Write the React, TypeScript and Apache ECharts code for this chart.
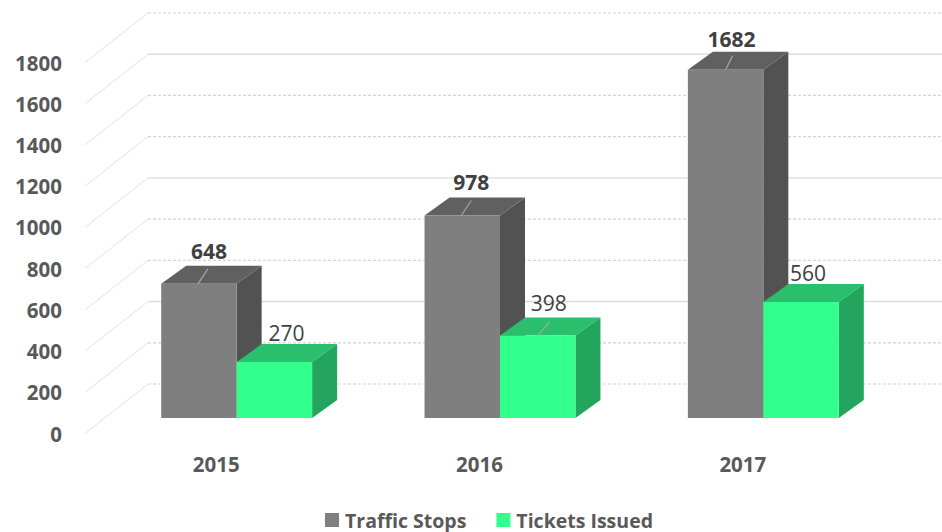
import React, { useEffect, useRef } from "react";
import * as echarts from "echarts";

const categories = ["2015", "2016", "2017"];
const trafficStops = [648, 978, 1682];
const ticketsIssued = [270, 398, 560];
const yTicks = [0, 200, 400, 600, 800, 1000, 1200, 1400, 1600, 1800];
const solidTicks = [400, 1000, 1600];

const FONT = '"Open Sans", sans-serif';
const DEPTH_X = 25;
const DEPTH_Y = 18;
const WALL_X = 63;
const WALL_Y = 49.5;
const BAR_FRACTION = 75.5 / 263.5;

type BarStyle = {
  front: string;
  side: string;
  top: string;
  slot: number;
  bold: boolean;
  labelShift: number[][];
  leader: (number[] | null)[];
};

const grayStyle: BarStyle = {
  front: "#7f7f7f",
  side: "#525252",
  top: "#606060",
  slot: -1,
  bold: true,
  labelShift: [[10, -33], [9, -33], [6, -31]],
  leader: [[-1, 0, 9, -15], [-1, 0, 9, -15], [0, 0, 7, -14]],
};
const greenStyle: BarStyle = {
  front: "#33ff8d",
  side: "#24a55e",
  top: "#29bf6c",
  slot: 0,
  bold: false,
  labelShift: [[12, -29], [11, -33], [7, -29]],
  leader: [null, [0, 0, 12, -14], null],
};

function barRenderer(s: BarStyle) {
  return (params: any, api: any) => {
    const idx = api.value(0);
    const value = api.value(1);
    const w = api.size([1, 0])[0] * BAR_FRACTION;
    const c = api.coord([idx, value]);
    const b = api.coord([idx, 0]);
    const x0 = c[0] + s.slot * w;
    const x1 = x0 + w;
    const yt = c[1];
    const yb = b[1];
    const children: any[] = [
      {
        type: "polygon",
        shape: { points: [[x1, yt], [x1 + DEPTH_X, yt - DEPTH_Y], [x1 + DEPTH_X, yb - DEPTH_Y], [x1, yb]] },
        style: { fill: s.side },
      },
      {
        type: "polygon",
        shape: { points: [[x0, yt], [x0 + DEPTH_X, yt - DEPTH_Y], [x1 + DEPTH_X, yt - DEPTH_Y], [x1, yt]] },
        style: { fill: s.top },
      },
      {
        type: "rect",
        shape: { x: x0, y: yt, width: w, height: yb - yt },
        style: { fill: s.front },
      },
    ];
    const cx = (x0 + x1) / 2;
    const lead = s.leader[idx];
    if (lead) {
      children.push({
        type: "line",
        shape: { x1: cx + lead[0], y1: yt + lead[1], x2: cx + lead[2], y2: yt + lead[3] },
        style: { stroke: "#a6a6a6", lineWidth: 1.2 },
      });
    }
    const shift = s.labelShift[idx];
    children.push({
      type: "text",
      style: {
        text: String(value),
        x: cx + shift[0],
        y: yt + shift[1],
        align: "center",
        verticalAlign: "middle",
        fill: "#404040",
        font: `${s.bold ? "bold " : ""}21px ${FONT}`,
      },
    });
    return { type: "group", children };
  };
}

function wallRenderer(params: any, api: any) {
  const v = api.value(0);
  const a = api.coord([0, v]);
  const e = api.coord([1, v]);
  const solid = solidTicks.includes(v);
  return {
    type: "group",
    children: [
      {
        type: "line",
        shape: { x1: a[0], y1: a[1], x2: a[0] + WALL_X, y2: a[1] - WALL_Y },
        style: { stroke: "#e2e2e2", lineWidth: 1 },
      },
      {
        type: "line",
        shape: { x1: a[0] + WALL_X, y1: a[1] - WALL_Y, x2: e[0], y2: e[1] - WALL_Y },
        style: solid
          ? { stroke: "#dcdcdc", lineWidth: 1.4 }
          : { stroke: "#d4d4d4", lineWidth: 1.2, lineDash: [3, 2] },
      },
    ],
  };
}

export default function App() {
  const ref = useRef<HTMLDivElement>(null);
  useEffect(() => {
    const chart = echarts.init(ref.current!, null, { renderer: "svg" });
    chart.setOption({
      animation: false,
      backgroundColor: "#ffffff",
      grid: [
        { left: 105, right: 47, top: 45.3, height: 372.7 },
        { left: 85, right: 0, top: 62.5, height: 371 },
      ],
      xAxis: [
        {
          type: "category",
          gridIndex: 0,
          data: categories,
          axisLine: { show: false },
          axisTick: { show: false },
          axisLabel: {
            margin: 35,
            color: "#595959",
            fontFamily: FONT,
            fontWeight: "bold",
            fontSize: 20.5,
            padding: [0, 41, 0, 0],
          },
        },
        { type: "value", gridIndex: 1, min: 0, max: 1, show: false },
      ],
      yAxis: [
        { type: "value", gridIndex: 0, min: 0, max: 1800, interval: 200, show: false },
        {
          type: "value",
          gridIndex: 1,
          min: 0,
          max: 1800,
          interval: 200,
          axisLine: { show: false },
          axisTick: { show: false },
          splitLine: { show: false },
          axisLabel: {
            margin: 23,
            color: "#595959",
            fontFamily: FONT,
            fontWeight: "bold",
            fontSize: 20.5,
            formatter: (v: number) => String(v),
          },
        },
      ],
      legend: {
        left: 325,
        top: 509,
        padding: 0,
        itemWidth: 14,
        itemHeight: 14,
        itemGap: 30,
        icon: "rect",
        textStyle: {
          color: "#595959",
          fontFamily: FONT,
          fontWeight: "bold",
          fontSize: 19.5,
          lineHeight: 22,
          padding: [0, 0, 0, 1],
        },
        data: ["Traffic Stops", "Tickets Issued"],
      },
      series: [
        {
          type: "custom",
          name: "wall",
          xAxisIndex: 1,
          yAxisIndex: 1,
          silent: true,
          data: yTicks.map((v) => [v]),
          encode: { y: 0 },
          renderItem: wallRenderer,
          z: 1,
        },
        {
          type: "custom",
          name: "Traffic Stops",
          xAxisIndex: 0,
          yAxisIndex: 0,
          itemStyle: { color: grayStyle.front },
          data: trafficStops.map((v, i) => [i, v]),
          encode: { x: 0, y: 1 },
          renderItem: barRenderer(grayStyle),
          z: 2,
        },
        {
          type: "custom",
          name: "Tickets Issued",
          xAxisIndex: 0,
          yAxisIndex: 0,
          itemStyle: { color: greenStyle.front },
          data: ticketsIssued.map((v, i) => [i, v]),
          encode: { x: 0, y: 1 },
          renderItem: barRenderer(greenStyle),
          z: 3,
        },
      ],
    });
    return () => chart.dispose();
  }, []);
  return <div ref={ref} style={{ width: 942, height: 532, position: "absolute", left: 0, top: 0 }} />;
}
